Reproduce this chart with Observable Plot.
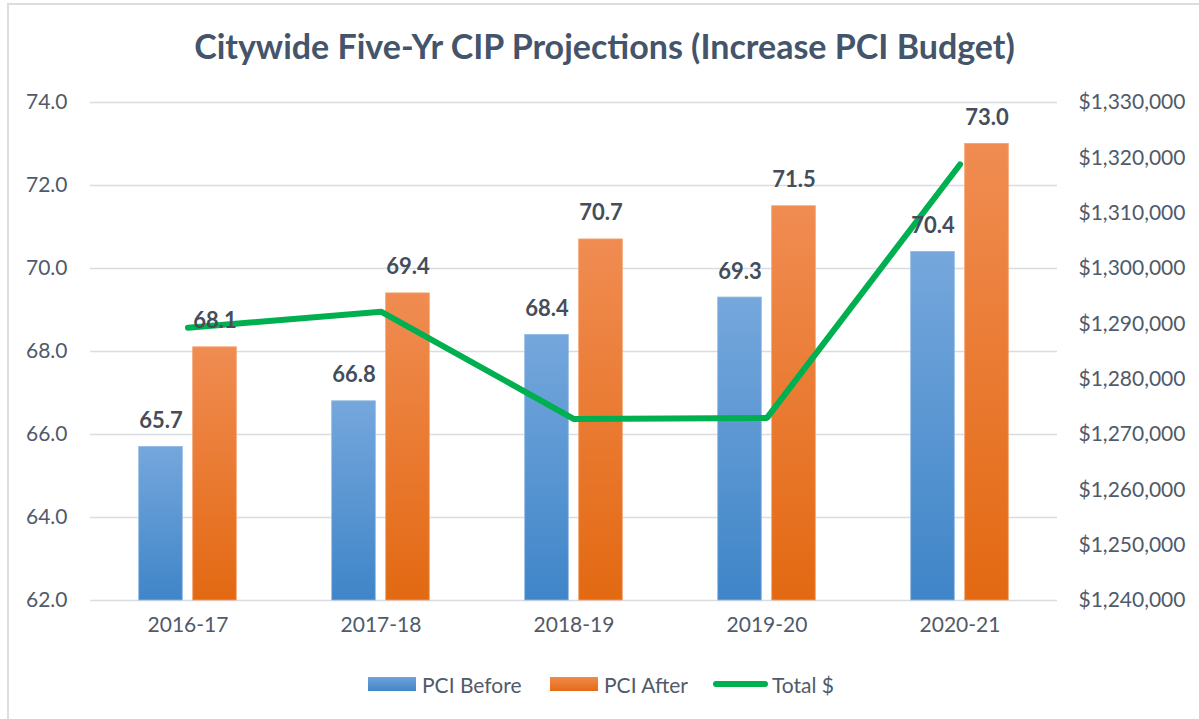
<!DOCTYPE html>
<html>
<head>
<meta charset="utf-8">
<script src="https://cdn.jsdelivr.net/npm/d3@7"></script>
<script src="https://cdn.jsdelivr.net/npm/@observablehq/plot@0.6"></script>
<style>
  html, body { margin: 0; padding: 0; background: #fff; }
  #wrap { position: relative; width: 1199px; height: 719px; overflow: hidden; font-family: Lato, "Open Sans", sans-serif; }
  #frame { position: absolute; left: 7px; top: 3px; width: 1400px; height: 900px; border-top: 2px solid #dadde2; border-left: 2px solid #dadde2; pointer-events: none; }
  #title { position: absolute; left: 0; width: 1209px; top: 25px; text-align: center; font-size: 34px; font-weight: bold; color: #44546A; }
  #chart { position: absolute; left: 0; top: 0; }
  #legend { position: absolute; top: 671px; left: 0; width: 1199px; height: 26px; font-size: 21px; color: #505a6a; }
  .item { position: absolute; top: 0; display: flex; align-items: center; height: 26px; }
  .sw { width: 48px; height: 14px; margin-right: 6px; }
  .ln { width: 55px; height: 6px; border-radius: 3px; margin-right: 4px; background: #00B050; }
</style>
</head>
<body>
<div id="wrap">
  <div id="chart"></div>
  <div id="title">Citywide Five-Yr CIP Projections (Increase PCI Budget)</div>
  <div id="legend"></div>
  <div id="frame"></div>
</div>
<script>
// ---- data ----
const years = ["2016-17", "2017-18", "2018-19", "2019-20", "2020-21"];
const pciBefore = [65.7, 66.8, 68.4, 69.3, 70.4];
const pciAfter = [68.1, 69.4, 70.7, 71.5, 73.0];
const totalDollars = [1289300, 1292200, 1272800, 1273000, 1318800];
const leftTicks = [62, 64, 66, 68, 70, 72, 74];
const rightTicks = [1240000, 1250000, 1260000, 1270000, 1280000, 1290000, 1300000, 1310000, 1320000, 1330000];
const seriesNames = ["PCI Before", "PCI After", "Total $"];

// ---- mapping of the right (dollar) axis onto the left (PCI) scale ----
const leftDomain = [62, 74];
const rightDomain = [1240000, 1330000];
const toLeft = v => leftDomain[0] + (v - rightDomain[0]) / (rightDomain[1] - rightDomain[0]) * (leftDomain[1] - leftDomain[0]);
const toRight = y => rightDomain[0] + (y - leftDomain[0]) / (leftDomain[1] - leftDomain[0]) * (rightDomain[1] - rightDomain[0]);
const fmtDollar = d3.format("$,.0f");

const before = years.map((y, i) => ({year: y, value: pciBefore[i]}));
const after = years.map((y, i) => ({year: y, value: pciAfter[i]}));
const totals = years.map((y, i) => ({year: y, value: toLeft(totalDollars[i])}));

const W = 1199, mL = 90, mR = 142;
const bw = (W - mL - mR) / years.length;
const barW = 44, gap = 10;
const groupLeft = (bw - (2 * barW + gap)) / 2;

const textColor = "#505a6a";
const labelColor = "#434d5c";
const tickFont = 21;

const defs = () => {
  const g = d3.create("svg:defs");
  const mk = (id, top, bottom) => {
    const lg = g.append("linearGradient").attr("id", id).attr("x1", 0).attr("y1", 0).attr("x2", 0).attr("y2", 1);
    lg.append("stop").attr("offset", "0%").attr("stop-color", top);
    lg.append("stop").attr("offset", "100%").attr("stop-color", bottom);
  };
  mk("gBlue", "#75a7dc", "#3f85c8");
  mk("gOrange", "#f08c52", "#e36912");
  return g.node();
};

const chart = Plot.plot({
  width: W,
  height: 650,
  marginTop: 102,
  marginBottom: 50,
  marginLeft: mL,
  marginRight: mR,
  style: {fontFamily: "Lato, 'Open Sans', sans-serif", color: textColor, background: "transparent", overflow: "visible"},
  x: {type: "band", domain: years, padding: 0, axis: null},
  y: {domain: leftDomain, axis: null},
  marks: [
    defs,
    Plot.gridY(leftTicks, {stroke: "#d9dce1", strokeOpacity: 1, strokeWidth: 1.3}),
    Plot.axisY(leftTicks, {anchor: "left", label: null, tickSize: 0, tickPadding: 23, fontSize: tickFont, tickFormat: d3.format(".1f")}),
    Plot.axisY(rightTicks.map(toLeft), {anchor: "right", label: null, tickSize: 0, tickPadding: 21, fontSize: tickFont,
      tickFormat: d => fmtDollar(Math.round(toRight(d) / 10000) * 10000)}),
    Plot.axisX(years, {anchor: "bottom", label: null, tickSize: 0, tickPadding: 17, fontSize: tickFont}),
    Plot.barY(before, {x: "year", y1: leftDomain[0], y2: "value", fill: "url(#gBlue)", stroke: "#8fb8e3", strokeWidth: 0.8,
      insetLeft: groupLeft, insetRight: bw - groupLeft - barW}),
    Plot.barY(after, {x: "year", y1: leftDomain[0], y2: "value", fill: "url(#gOrange)", stroke: "#f3a06e", strokeWidth: 0.8,
      insetLeft: groupLeft + barW + gap, insetRight: groupLeft}),
    Plot.line(totals, {x: "year", y: "value", stroke: "#00B050", strokeWidth: 6, strokeLinecap: "round", strokeLinejoin: "miter"}),
    Plot.text(before, {x: "year", y: "value", text: d => d.value.toFixed(1), dx: groupLeft + barW / 2 - bw / 2, dy: -26,
      fontSize: 22, fontWeight: "bold", fill: labelColor}),
    Plot.text(after, {x: "year", y: "value", text: d => d.value.toFixed(1), dx: groupLeft + barW + gap + barW / 2 - bw / 2, dy: -26,
      fontSize: 22, fontWeight: "bold", fill: labelColor})
  ]
});
document.getElementById("chart").appendChild(chart);

// ---- legend ----
const legend = document.getElementById("legend");
const items = [
  {name: seriesNames[0], left: 368, cls: "sw", bg: "linear-gradient(#6fa3db, #4286c9)"},
  {name: seriesNames[1], left: 550, cls: "sw", bg: "linear-gradient(#f08a4e, #e46b15)"},
  {name: seriesNames[2], left: 713, cls: "ln", bg: "#00B050"}
];
for (const it of items) {
  const d = document.createElement("div");
  d.className = "item";
  d.style.left = it.left + "px";
  const s = document.createElement("div");
  s.className = it.cls;
  s.style.background = it.bg;
  const t = document.createElement("span");
  t.textContent = it.name;
  d.appendChild(s); d.appendChild(t);
  legend.appendChild(d);
}
</script>
</body>
</html>
